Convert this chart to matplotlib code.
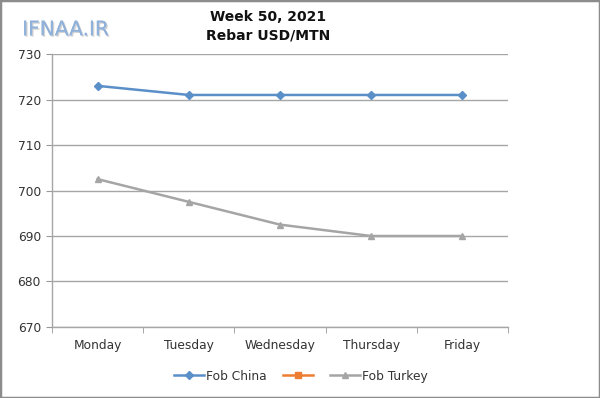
import matplotlib
matplotlib.use("Agg")
import matplotlib.pyplot as plt
import numpy as np
from matplotlib.patches import Rectangle
import matplotlib.patheffects as pe

days = ["Monday", "Tuesday", "Wednesday", "Thursday", "Friday"]
fob_china = [723, 721, 721, 721, 721]
fob_other = [np.nan] * 5
fob_turkey = [702.5, 697.5, 692.5, 690, 690]
yticks = [670, 680, 690, 700, 710, 720, 730]
series_labels = ["Fob China", "", "Fob Turkey"]

plt.rcParams['font.family'] = ['DejaVu Sans']

fig = plt.figure(figsize=(6.0, 3.98), dpi=100)
ax = fig.add_axes([0.0867, 0.1784, 0.76, 0.6859])

x = np.arange(len(days))
l1, = ax.plot(x, fob_china, color='#5B8FC7', lw=1.8, marker='D', ms=4)
l2, = ax.plot(x, fob_other, color='#ED7D31', lw=1.8, marker='s', ms=5)
l3, = ax.plot(x, fob_turkey, color='#A5A5A5', lw=1.8, marker='^', ms=5)

ax.set_xlim(-0.5, len(days) - 0.5)
ax.set_ylim(670, 730)
ax.set_yticks(yticks)
ax.set_xticks(x)
ax.set_xticklabels(days)
ax.set_xticks(np.arange(-0.5, len(days), 1), minor=True)
ax.tick_params(axis='x', which='major', length=0, pad=9, labelsize=8.8, labelcolor='#333333')
ax.tick_params(axis='x', which='minor', length=4, color='#999999', direction='out')
ax.tick_params(axis='y', length=4, color='#999999', labelsize=8.8, labelcolor='#333333', pad=4)
ax.grid(axis='y', color='#A6A6A6', lw=1)
ax.set_axisbelow(True)
for s in ['top', 'right']:
    ax.spines[s].set_visible(False)
for s in ['left', 'bottom']:
    ax.spines[s].set_color('#A6A6A6')
    ax.spines[s].set_linewidth(1)

fig.text(0.447, 0.957, "Week 50, 2021", ha='center', va='center', fontsize=10, fontweight='bold', color='#111111')
fig.text(0.447, 0.912, "Rebar USD/MTN", ha='center', va='center', fontsize=10, fontweight='bold', color='#111111')

fig.text(0.037, 0.925, "IFNAA.IR", ha='left', va='center', fontsize=14.5, color='#8FB1DA',
         path_effects=[pe.withSimplePatchShadow(offset=(1, -1), shadow_rgbFace='#C8C8C8', alpha=0.8), pe.Normal()])

fig.legend(handles=[l1, l2, l3], labels=series_labels, loc='center', bbox_to_anchor=(0.502, 0.055), ncol=3,
           frameon=False, fontsize=8.8, handlelength=2.45, columnspacing=1.3, handletextpad=0.15,
           labelcolor='#333333')

fig.patches.append(Rectangle((0, 0), 1, 1, transform=fig.transFigure, fill=False,
                             edgecolor='#8C8C8C', lw=2.5))

fig.savefig("out.png", dpi=100)
